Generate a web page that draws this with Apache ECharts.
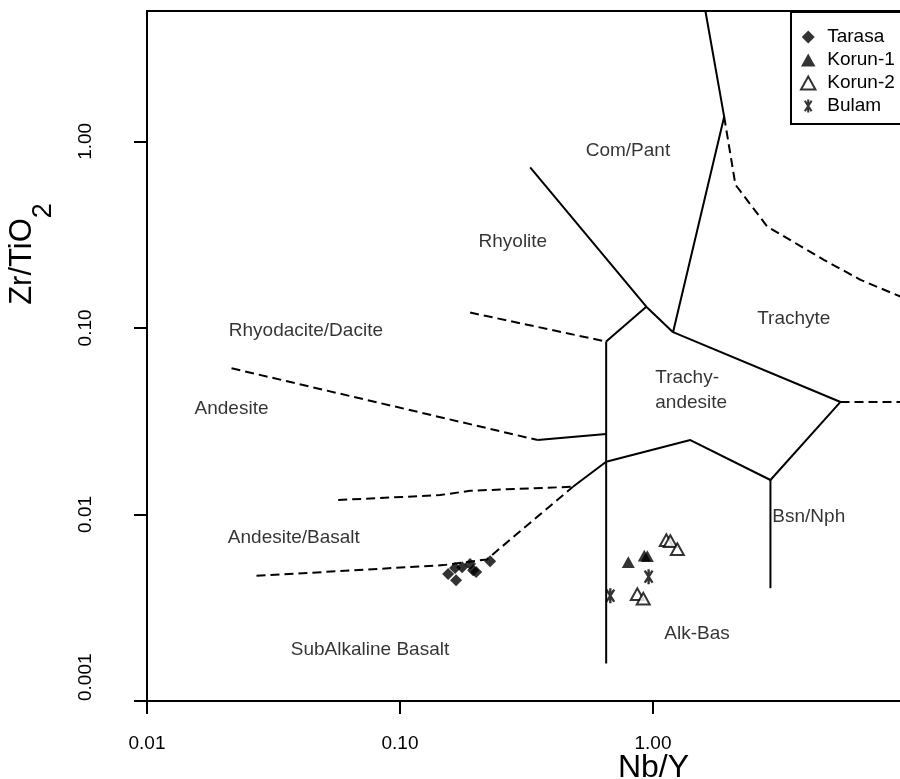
<!DOCTYPE html>
<html><head><meta charset="utf-8">
<script src="https://cdn.jsdelivr.net/npm/echarts@6/dist/echarts.min.js"></script>
<style>html,body{margin:0;padding:0;background:#fff}#c{width:900px;height:779px}</style>
</head><body><div id="c"></div>
<script>
// ---- data ----
const xTicks = [0.01, 0.1, 1];
const yTicks = [0.001, 0.01, 0.1, 1];

const tarasa = [[0.155,0.00479],[0.1666,0.00444],[0.1651,0.00516],[0.176,0.00522],[0.1892,0.00542],[0.1945,0.00503],[0.1999,0.00491],[0.2271,0.00562]];
const korun1 = [[0.7985,0.00555],[0.924,0.00602],[0.95,0.00598]];
const korun2 = [[1.129,0.00729],[1.171,0.0072],[1.248,0.00652],[0.867,0.00374],[0.915,0.00354]];
const bulam  = [[0.678,0.00367],[0.961,0.00464]];

const solidBoundaries = [
  [[0.327,0.725],[0.941,0.130],[1.20,0.0949]],
  [[1.20,0.0949],[1.911,1.357],[1.611,5]],
  [[0.653,0.0845],[0.941,0.130]],
  [[0.653,0.0845],[0.653,0.00159]],
  [[1.20,0.0949],[5.51,0.0401],[2.912,0.0153],[1.405,0.02506],[0.653,0.01918],[0.4826,0.01408]],
  [[2.912,0.0153],[2.912,0.004024]],
  [[0.35,0.02506],[0.653,0.0270]]
];
const dashedBoundaries = [
  [[0.1892,0.1209],[0.653,0.0845]],
  [[0.02158,0.0608],[0.35,0.02506]],
  [[0.05698,0.01195],[0.144,0.0127],[0.1892,0.0134],[0.4826,0.01408]],
  [[0.02709,0.004686],[0.1484,0.005351],[0.2203,0.005739],[0.4826,0.01408]],
  [[1.911,1.357],[2.117,0.586],[2.826,0.3499],[4.733,0.2318],[6.612,0.1811],[10,0.143]],
  [[5.51,0.0401],[10,0.0401]]
];

const regionNames = ['Com/Pant','Rhyolite','Trachyte','Trachy-\nandesite','Rhyodacite/Dacite','Andesite','Andesite/Basalt','SubAlkaline Basalt','Alk-Bas','Bsn/Nph'];
const regionX = [0.796, 0.2793, 3.601, 1.021, 0.04246, 0.02158, 0.03806, 0.0761, 1.493, 4.128];
const regionY = [0.911, 0.2969, 0.1151, 0.0477, 0.0984, 0.03782, 0.007655, 0.001918, 0.002346, 0.009922];

// ---- chart ----
const FONT = "'Liberation Sans', Arial, Helvetica, sans-serif";
const DIAMOND = 'path://M50,0 L100,50 L50,100 L0,50 Z';
const TRIANGLE = 'path://M50,0 L100,90 L0,90 Z';
const ASTERISK = 'path://M42,0 L58,0 L58,100 L42,100 Z M17.1,13.3 L30.9,5.3 L82.9,86.7 L69.1,94.7 Z M30.9,94.7 L17.1,86.7 L69.1,5.3 L82.9,13.3 Z';
const fmt = v => (v < 0.0095 ? v.toFixed(3) : v.toFixed(2));

const series = [];
solidBoundaries.forEach(pts => series.push({
  type: 'line', data: pts, symbol: 'none', silent: true, z: 2,
  lineStyle: {color: '#000', width: 2}
}));
dashedBoundaries.forEach(pts => series.push({
  type: 'line', data: pts, symbol: 'none', silent: true, z: 2,
  lineStyle: {color: '#000', width: 2, type: [9, 5]}
}));
series.push({
  type: 'scatter', silent: true, symbolSize: 1, z: 3,
  itemStyle: {color: 'rgba(0,0,0,0)'},
  data: regionNames.map((n, i) => {
    const d = {name: n, value: [regionX[i], regionY[i]]};
    if (n.indexOf('\n') >= 0) d.label = {align: 'left'};
    return d;
  }),
  label: {show: true, position: 'inside', offset: [0, 2], formatter: p => p.name, color: '#000',
          fontSize: 19, fontFamily: FONT, lineHeight: 25}
});
series.push({name: 'Tarasa', type: 'scatter', data: tarasa, symbol: DIAMOND, symbolSize: 12, symbolKeepAspect: true, z: 5,
  itemStyle: {color: '#000'}});
series.push({name: 'Korun-1', type: 'scatter', data: korun1, symbol: TRIANGLE, symbolSize: 13, symbolKeepAspect: true, z: 5,
  itemStyle: {color: '#000'}});
series.push({name: 'Korun-2', type: 'scatter', data: korun2, symbol: TRIANGLE, symbolSize: 13, symbolKeepAspect: true, z: 5,
  itemStyle: {color: '#fff', borderColor: '#000', borderWidth: 2}});
series.push({name: 'Bulam', type: 'scatter', data: bulam, symbol: ASTERISK, symbolKeepAspect: true, symbolSize: 15, z: 5,
  itemStyle: {color: '#000'}});

const chart = echarts.init(document.getElementById('c'), null, {renderer: 'canvas'});
chart.setOption({
  animation: false,
  backgroundColor: '#fff',
  grid: {left: 147, top: 11, right: -6, bottom: 78, show: true, borderColor: '#000', borderWidth: 2,
         containLabel: false, outerBoundsMode: 'none'},
  legend: {
    data: ['Tarasa', 'Korun-1', 'Korun-2', 'Bulam'],
    orient: 'vertical', left: 791, top: 12,
    padding: [15, 20, 8, 9], itemWidth: 28, itemHeight: 13, itemGap: 3,
    symbolKeepAspect: true,
    borderColor: '#000', borderWidth: 2, backgroundColor: '#fff',
    textStyle: {fontSize: 19, lineHeight: 20, color: '#000', fontFamily: FONT},
    selectedMode: false
  },
  xAxis: {
    type: 'log', logBase: 10, min: 0.01, max: 10,
    name: 'Nb/Y', nameLocation: 'middle', nameGap: 51, nameMoveOverlap: false,
    nameTextStyle: {fontSize: 32, color: '#000', fontFamily: FONT, padding: [0, 0, 0, 254]},
    axisLine: {onZero: false, lineStyle: {color: '#000', width: 2}},
    axisTick: {show: true, length: 13, lineStyle: {color: '#000', width: 2}, customValues: xTicks},
    axisLabel: {color: '#000', fontSize: 19, fontFamily: FONT, margin: 33, formatter: fmt, customValues: xTicks},
    splitLine: {show: false}, minorTick: {show: false}
  },
  yAxis: {
    type: 'log', logBase: 10, min: 0.001, max: 5,
    name: '{a|Zr/TiO}{b|2}', nameLocation: 'middle', nameGap: 108, nameMoveOverlap: false,
    nameTextStyle: {color: '#000', fontFamily: FONT, padding: [0, 0, 0, 204],
      rich: {
        a: {fontSize: 31, fontFamily: FONT, color: '#000', verticalAlign: 'top', lineHeight: 32},
        b: {fontSize: 27, fontFamily: FONT, color: '#000', verticalAlign: 'top', lineHeight: 28, padding: [23, 0, 0, 0]}
      }},
    axisLine: {onZero: false, lineStyle: {color: '#000', width: 2}},
    axisTick: {show: true, length: 13, lineStyle: {color: '#000', width: 2}, customValues: yTicks},
    axisLabel: {color: '#000', fontSize: 19, fontFamily: FONT, rotate: 90, margin: 52, formatter: fmt,
      customValues: yTicks, alignMinLabel: 'left'},
    splitLine: {show: false}, minorTick: {show: false}
  },
  series: series
});
</script></body></html>
